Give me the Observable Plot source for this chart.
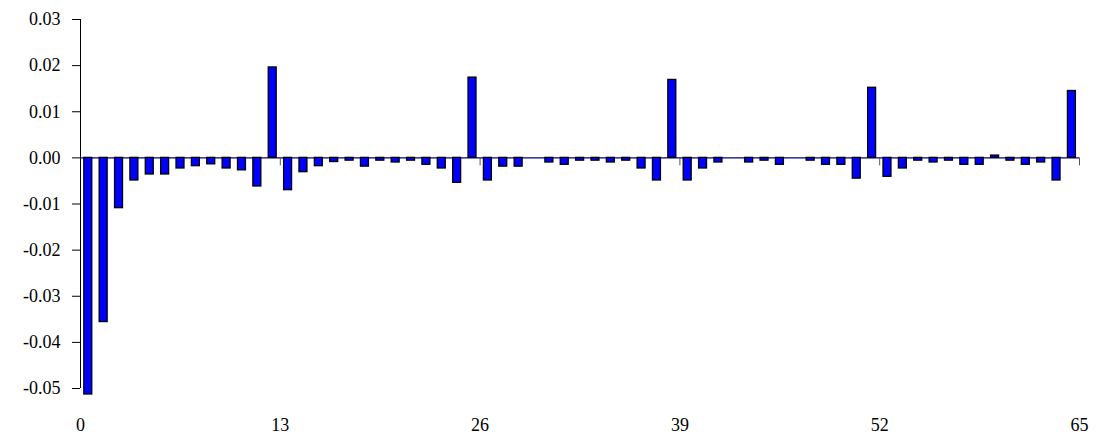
<!DOCTYPE html>
<html>
<head>
<meta charset="utf-8">
<script src="https://cdn.jsdelivr.net/npm/d3@7"></script>
<script src="https://cdn.jsdelivr.net/npm/@observablehq/plot@0.6"></script>
<style>
  html, body { margin: 0; padding: 0; background: #ffffff; }
  #chart svg { display: block; }
</style>
</head>
<body>
<div id="chart"></div>
<script>
// Lags 1..65 (each bar occupies the band [lag-1, lag])
const lags = d3.range(1, 66);
const values = [
  -0.0513, -0.0356, -0.0109, -0.0049, -0.0036, -0.0036, -0.0023, -0.0018, -0.0014, -0.0023,
  -0.0027, -0.0062, 0.0196, -0.0070, -0.0031, -0.0018, -0.0009, -0.0006, -0.0019, -0.0006,
  -0.0010, -0.0006, -0.0015, -0.0023, -0.0054, 0.0174, -0.0049, -0.0019, -0.0019, 0.0000,
  -0.0010, -0.0015, -0.0006, -0.0006, -0.0010, -0.0006, -0.0023, -0.0049, 0.0169, -0.0049,
  -0.0023, -0.0010, 0.0000, -0.0010, -0.0006, -0.0015, 0.0000, -0.0006, -0.0015, -0.0015,
  -0.0045, 0.0152, -0.0041, -0.0023, -0.0006, -0.0010, -0.0006, -0.0015, -0.0015, 0.0005,
  -0.0006, -0.0015, -0.0010, -0.0049, 0.0145
];
const xTicks = [0, 13, 26, 39, 52, 65];
const yTicks = [-0.05, -0.04, -0.03, -0.02, -0.01, 0, 0.01, 0.02, 0.03];
const yLabels = ["-0.05", "-0.04", "-0.03", "-0.02", "-0.01", "0.00", "0.01", "0.02", "0.03"];

const data = lags.map((lag, i) => ({lag, v: values[i]})).filter(d => d.v !== 0);
const font = "Liberation Serif";

const chart = Plot.plot({
  width: 1096,
  height: 439,
  marginLeft: 80,
  marginRight: 17,
  marginTop: 19,
  marginBottom: 51,
  style: {fontFamily: font, fontSize: "18px", color: "#000", background: "#fff", overflow: "visible"},
  x: {domain: [0, 65], axis: null},
  y: {domain: [-0.05, 0.03], axis: null},
  marks: [
    Plot.axisY({ticks: yTicks, tickFormat: d => yLabels[yTicks.indexOf(d)], tickSize: 8, tickPadding: 12, label: null, stroke: "#000", fill: "#000", fontFamily: font, fontSize: 18}),
    Plot.axisX({ticks: xTicks, tickFormat: d => String(d), tickSize: 0, tickPadding: 30, label: null, fill: "#000", fontFamily: font, fontSize: 18}),
    Plot.ruleX([0], {stroke: "#000", strokeWidth: 1}),
    Plot.ruleY([0], {stroke: "#000080", strokeWidth: 1.2}),
    Plot.ruleX(xTicks.slice(1), {x: d => d, y1: 0, y2: 0, insetBottom: -8, stroke: "#555", strokeWidth: 1}),
    Plot.rectY(data, {x1: d => d.lag - 1, x2: d => d.lag, y1: 0, y2: "v", fill: "#0000FF", stroke: "#000", strokeWidth: 1.3, insetLeft: 3.8, insetRight: 3.6})
  ]
});
document.getElementById("chart").appendChild(chart);
</script>
</body>
</html>
